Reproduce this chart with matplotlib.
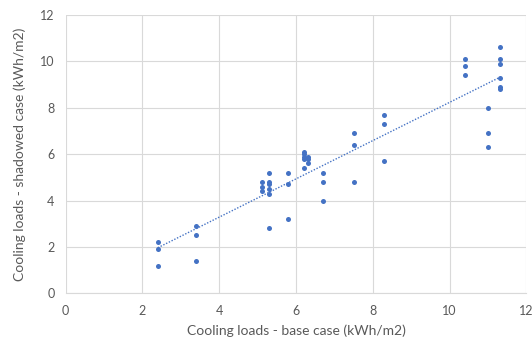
import numpy as np
import matplotlib.pyplot as plt

# cooling loads (kWh/m2)
base_case = [2.4, 2.4, 2.4,
             3.4, 3.4, 3.4,
             5.1, 5.1, 5.1,
             5.3, 5.3, 5.3, 5.3, 5.3, 5.3,
             5.8, 5.8, 5.8,
             6.2, 6.2, 6.2, 6.2, 6.2,
             6.3, 6.3, 6.3,
             6.7, 6.7, 6.7,
             7.5, 7.5, 7.5,
             8.3, 8.3, 8.3,
             10.4, 10.4, 10.4,
             11.0, 11.0, 11.0,
             11.3, 11.3, 11.3, 11.3, 11.3, 11.3]
shadowed_case = [2.2, 1.9, 1.2,
                 2.9, 2.5, 1.4,
                 4.8, 4.6, 4.4,
                 5.2, 4.8, 4.7, 4.5, 4.3, 2.8,
                 5.2, 4.7, 3.2,
                 6.1, 6.0, 5.9, 5.8, 5.4,
                 5.9, 5.8, 5.6,
                 5.2, 4.8, 4.0,
                 6.9, 6.4, 4.8,
                 7.7, 7.3, 5.7,
                 10.1, 9.8, 9.4,
                 8.0, 6.9, 6.3,
                 10.6, 10.1, 9.9, 9.3, 8.9, 8.8]

ticks = [0, 2, 4, 6, 8, 10, 12]

plt.rcParams['font.family'] = ['Lato', 'DejaVu Sans']

fig = plt.figure(figsize=(5.32, 3.4), dpi=100)
ax = fig.add_axes([0.1235, 0.137, 0.866, 0.819])

dot_color = '#4472C4'
ax.scatter(base_case, shadowed_case, s=13, color=dot_color, zorder=3, linewidths=0)

# linear trendline
k, b = np.polyfit(base_case, shadowed_case, 1)
xs = np.array([min(base_case), max(base_case)])
ax.plot(xs, k * xs + b, color=dot_color, lw=1.0, ls=(0, (1, 1.2)), zorder=2)

ax.set_xlim(0, 12)
ax.set_ylim(0, 12)
ax.set_xticks(ticks)
ax.set_yticks(ticks)
ax.grid(True, color='#d9d9d9', lw=0.8)
ax.set_axisbelow(True)
for side in ['top', 'right', 'left']:
    ax.spines[side].set_visible(False)
ax.spines['bottom'].set_color('#d9d9d9')
ax.tick_params(length=0, labelsize=9, colors='#595959', pad=8)

ax.set_xlabel('Cooling loads - base case (kWh/m2)', fontsize=10, color='#595959', labelpad=6)
ax.set_ylabel('Cooling loads - shadowed case (kWh/m2)', fontsize=10, color='#595959', labelpad=10)

fig.savefig('out.png', dpi=100)
